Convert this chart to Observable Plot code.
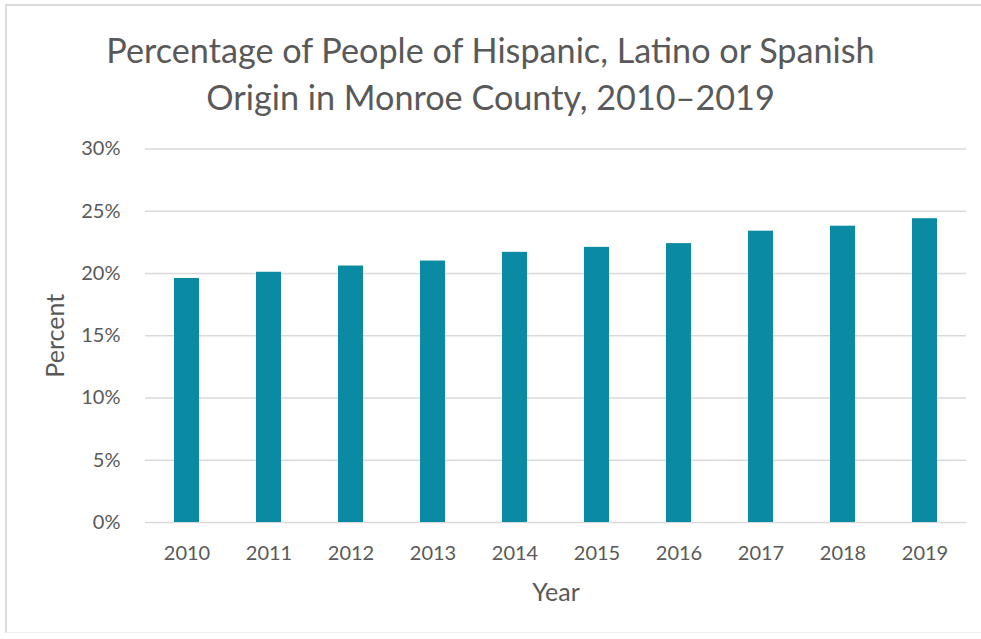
<!DOCTYPE html>
<html>
<head>
<meta charset="utf-8">
<script src="https://cdn.jsdelivr.net/npm/d3@7"></script>
<script src="https://cdn.jsdelivr.net/npm/@observablehq/plot@0.6"></script>
<style>
  html, body { margin: 0; padding: 0; background: #fff; }
  #wrap { position: relative; width: 981px; height: 639px; overflow: hidden; font-family: Lato, "Open Sans", sans-serif; }
  #frame { position: absolute; left: 5px; top: 4px; width: 990px; height: 629px; border-top: 2px solid #dcdcdc; border-left: 2px solid #dcdcdc; border-bottom: 1px solid #f0f0f0; box-sizing: border-box; }
  #title { position: absolute; left: 0; width: 981px; top: 26px; text-align: center; color: #595959; font-size: 34.2px; line-height: 47px; }
  #chart { position: absolute; left: 0; top: 130px; }
  g[aria-label="x-axis label"] text, g[aria-label="y-axis label"] text { font-size: 25px; }
  g[aria-label="x-axis label"], g[aria-label="y-axis label"] { font-size: 25px; }
</style>
</head>
<body>
<div id="wrap">
  <div id="frame"></div>
  <div id="title">Percentage of People of Hispanic, Latino or Spanish<br>Origin in Monroe County, 2010–2019</div>
  <div id="chart"></div>
</div>
<script>
const years = ["2010","2011","2012","2013","2014","2015","2016","2017","2018","2019"];
const percents = [0.196, 0.201, 0.206, 0.210, 0.217, 0.221, 0.224, 0.234, 0.238, 0.244];
const yTicks = [0, 0.05, 0.10, 0.15, 0.20, 0.25, 0.30];
const xTitle = "Year";
const yTitle = "Percent";

const data = years.map((y, i) => ({year: y, value: percents[i]}));

const chart = Plot.plot({
  width: 981,
  height: 480,
  marginLeft: 145,
  marginRight: 15,
  marginTop: 18.5,
  marginBottom: 88,
  style: {fontFamily: "Lato, 'Open Sans', sans-serif", color: "#595959", background: "transparent"},
  x: {domain: years, paddingInner: 0.69, paddingOuter: 0.345},
  y: {domain: [0, 0.30]},
  marks: [
    Plot.gridY(yTicks, {stroke: "#d9d9d9", strokeOpacity: 1, strokeWidth: 1.3}),
    Plot.barY(data, {x: "year", y: "value", fill: "#0B8AA3"}),
    Plot.axisX({tickSize: 0, tickPadding: 23, fontSize: 20, fill: "#595959",
      label: xTitle, labelAnchor: "center", labelArrow: "none", labelOffset: 78}),
    Plot.axisY(yTicks, {tickSize: 0, tickPadding: 25, fontSize: 20, fill: "#595959",
      tickFormat: d3.format(".0%"),
      label: yTitle, labelAnchor: "center", labelArrow: "none", labelOffset: 99})
  ]
});
document.getElementById("chart").appendChild(chart);
</script>
</body>
</html>
